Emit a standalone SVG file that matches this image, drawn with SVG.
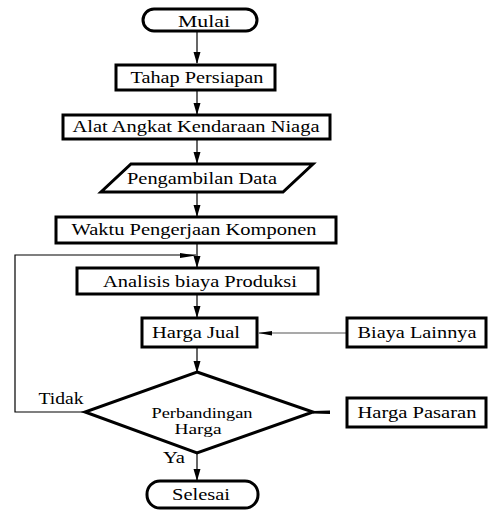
<svg xmlns="http://www.w3.org/2000/svg" width="488" height="510" viewBox="0 0 488 510">
<defs>
<marker id="arr" markerWidth="12" markerHeight="8" refX="11" refY="4" orient="auto" markerUnits="userSpaceOnUse" viewBox="0 0 12 8">
<path d="M0,0.5 L12,4 L0,7.5 Z" fill="#000"/>
</marker>
<style>
.box{fill:#fff;stroke:#000;stroke-width:3}
.t{font-family:"Liberation Serif","Times New Roman",serif;font-size:17px;fill:#000;text-anchor:middle}
.s{font-size:15px}
.ln{fill:none;stroke:#000;stroke-width:1.2}
</style>
</defs>
<g id="connectors">
<line class="ln" x1="197" y1="31" x2="197" y2="63" marker-end="url(#arr)"/>
<line class="ln" x1="197" y1="90" x2="197" y2="114" marker-end="url(#arr)"/>
<line class="ln" x1="197" y1="139" x2="197" y2="163" marker-end="url(#arr)"/>
<line class="ln" x1="197" y1="192" x2="197" y2="216" marker-end="url(#arr)"/>
<line class="ln" x1="197" y1="243" x2="197" y2="267" marker-end="url(#arr)"/>
<line class="ln" x1="197" y1="294" x2="197" y2="317" marker-end="url(#arr)"/>
<line class="ln" x1="197" y1="347" x2="197" y2="372" marker-end="url(#arr)"/>
<line class="ln" x1="197" y1="453" x2="197" y2="480" marker-end="url(#arr)"/>
<polyline class="ln" points="85,412 15,412 15,255 196,255"/>
<path d="M180,253 L196,255.5 L180,258 Z" fill="#000"/>
<line x1="347" y1="333" x2="259" y2="333" stroke="#555" stroke-width="1.2"/>
<path d="M272,331 L258,333 L272,335.5 Z" fill="#000"/>
<path d="M313,411 L330,410.5 L330,414 L313,413.5 Z" fill="#000"/>
</g>
<g id="mulai">
<rect class="box" x="143" y="9" width="114" height="22" rx="11"/>
<text class="t" x="204" y="27" textLength="52" lengthAdjust="spacingAndGlyphs">Mulai</text>
</g>
<g id="tahap">
<rect class="box" x="116" y="65" width="159" height="25"/>
<text class="t" x="197" y="83" textLength="133" lengthAdjust="spacingAndGlyphs">Tahap Persiapan</text>
</g>
<g id="alat">
<rect class="box" x="63" y="115" width="267" height="24"/>
<text class="t" x="196" y="132" textLength="247" lengthAdjust="spacingAndGlyphs">Alat Angkat Kendaraan Niaga</text>
</g>
<g id="pengambilan">
<path class="box" d="M131,164 L313,164 L283,192 L101,192 Z"/>
<text class="t" x="202" y="184" textLength="150" lengthAdjust="spacingAndGlyphs">Pengambilan Data</text>
</g>
<g id="waktu">
<rect class="box" x="56" y="217" width="280" height="26"/>
<text class="t" x="194" y="235" textLength="245" lengthAdjust="spacingAndGlyphs">Waktu Pengerjaan Komponen</text>
</g>
<g id="analisis">
<rect class="box" x="77" y="268" width="241" height="26"/>
<text class="t" x="200" y="287" textLength="194" lengthAdjust="spacingAndGlyphs">Analisis biaya Produksi</text>
</g>
<g id="hargajual">
<rect class="box" x="142" y="318" width="115" height="29"/>
<text class="t" x="196" y="338" textLength="88" lengthAdjust="spacingAndGlyphs">Harga Jual</text>
</g>
<g id="biaya">
<rect class="box" x="347" y="318" width="139" height="29"/>
<text class="t" x="417" y="338" textLength="119" lengthAdjust="spacingAndGlyphs">Biaya Lainnya</text>
</g>
<g id="perbandingan">
<path class="box" d="M197,372 L313,412 L197,453 L85,412 Z"/>
<text class="t s" x="202" y="418" textLength="101" lengthAdjust="spacingAndGlyphs">Perbandingan</text>
<text class="t s" x="198" y="434" textLength="47" lengthAdjust="spacingAndGlyphs">Harga</text>
</g>
<g id="pasaran">
<rect class="box" x="347" y="398" width="139" height="29"/>
<text class="t" x="417" y="418" textLength="119" lengthAdjust="spacingAndGlyphs">Harga Pasaran</text>
</g>
<g id="labels">
<text class="t" x="61" y="404" textLength="45" lengthAdjust="spacingAndGlyphs">Tidak</text>
<text class="t" x="174" y="463" textLength="22" lengthAdjust="spacingAndGlyphs">Ya</text>
</g>
<g id="selesai">
<rect class="box" x="147" y="481" width="111" height="27" rx="13"/>
<text class="t" x="201" y="500" textLength="58" lengthAdjust="spacingAndGlyphs">Selesai</text>
</g>
</svg>
